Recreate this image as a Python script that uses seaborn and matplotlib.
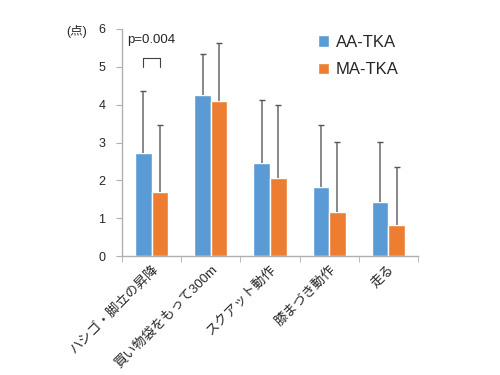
import numpy as np
import pandas as pd
import seaborn as sns
import matplotlib.pyplot as plt

categories = ["ハシゴ・脚立の昇降", "買い物袋をもって300m", "スクアット動作", "膝まづき動作", "走る"]
groups = ["AA-TKA", "MA-TKA"]
aa_mean = [2.73, 4.25, 2.46, 1.83, 1.43]
ma_mean = [1.68, 4.10, 2.05, 1.16, 0.82]
aa_sd = [1.64, 1.08, 1.65, 1.62, 1.59]
ma_sd = [1.78, 1.54, 1.93, 1.85, 1.52]
y_ticks = [0, 1, 2, 3, 4, 5, 6]
p_text = "p=0.004"

df = pd.DataFrame({
    "item": categories * 2,
    "group": [groups[0]] * 5 + [groups[1]] * 5,
    "score": aa_mean + ma_mean,
})

sns.set_style("white")
plt.rcParams['font.family'] = ['Liberation Sans', 'Noto Sans CJK JP', 'DejaVu Sans']

fig = plt.figure(figsize=(5, 3.75), dpi=100)
ax = fig.add_axes([0.244, 0.317, 0.592, 0.606])

sns.barplot(data=df, x="item", y="score", hue="group", order=categories,
            hue_order=groups, palette=["#5B9BD5", "#ED7D31"], width=0.56,
            errorbar=None, saturation=1, ax=ax)

bar_conts = list(ax.containers)

# upper-only SD error bars (stem + top cap only)
sds = [aa_sd, ma_sd]
for cont, sd in zip(bar_conts, sds):
    xs = np.array([p.get_x() + p.get_width() / 2 for p in cont.patches])
    hs = np.array([p.get_height() for p in cont.patches])
    tops = hs + np.array(sd)
    ax.vlines(xs, hs, tops, color="#7f7f7f", lw=1.3, zorder=3)
    ax.plot(xs, tops, ls="none", marker="_", ms=4, mew=1, color="#555555", zorder=3)

# significance bracket over first category
c0 = [c.patches[0] for c in bar_conts]
x1 = c0[0].get_x() + c0[0].get_width() / 2
x2 = c0[1].get_x() + c0[1].get_width() / 2
ax.plot([x1, x1, x2, x2], [5.0, 5.24, 5.24, 5.0], color="#404040", lw=0.8)
ax.text((x1 + x2) / 2, 5.55, p_text, ha="center", va="bottom", fontsize=9.5)

ax.set_ylim(0, 6)
ax.set_xlim(-0.5, 4.5)
ax.set_yticks(y_ticks)
ax.set_xlabel("")
ax.set_ylabel("")
ax.tick_params(axis="y", labelsize=9, length=4, color="#b0b0b0", left=True, pad=8)
ax.set_xticks(range(len(categories)))
ax.set_xticklabels(categories, rotation=45, ha="right", rotation_mode="anchor",
                   fontsize=9.5)
ax.tick_params(axis="x", which="major", length=0, pad=5)
ax.set_xticks(np.arange(-0.5, 5, 1), minor=True)
ax.tick_params(axis="x", which="minor", length=4, color="#b0b0b0", bottom=True)
for s in ["top", "right"]:
    ax.spines[s].set_visible(False)
for s in ["left", "bottom"]:
    ax.spines[s].set_color("#b0b0b0")
    ax.spines[s].set_linewidth(1)

fig.text(66 / 500, 1 - 31 / 375, "(点)", fontsize=9, ha="left", va="center")

ax.legend(loc="upper left", bbox_to_anchor=(311 / 500, 1 - 28 / 375),
          bbox_transform=fig.transFigure, borderaxespad=0, frameon=False,
          fontsize=12, handlelength=0.7, handleheight=0.7, handletextpad=0.4,
          labelspacing=0.75)

fig.savefig("out.png", dpi=100)
